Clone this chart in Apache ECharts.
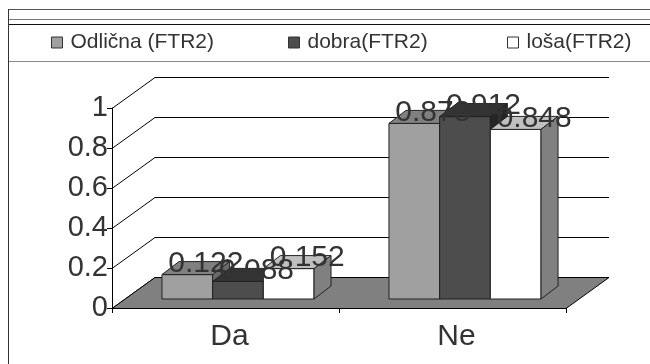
<!DOCTYPE html>
<html>
<head>
<meta charset="utf-8">
<script src="https://cdn.jsdelivr.net/npm/echarts@6/dist/echarts.min.js"></script>
<style>
html, body { margin: 0; padding: 0; background: #fff; }
#chart { width: 650px; height: 364px; }
</style>
</head>
<body>
<div id="chart"></div>
<script>
// Data
const categories = ['Da', 'Ne'];
const seriesNames = ['Odlična (FTR2)', 'dobra(FTR2)', 'loša(FTR2)'];
const odlicna = [0.122, 0.878];
const dobra = [0.088, 0.912];
const losa = [0.152, 0.848];
const yTicks = [0, 0.2, 0.4, 0.6, 0.8, 1];

const FONT = '"Liberation Sans", Arial, sans-serif';

// Oblique "3D" geometry: depth of floor / side wall, bar plane offset, bar depth
const WALL_DX = 43, WALL_DY = 31;
const BAR_OFF_X = 12.5, BAR_OFF_Y = 9;
const BAR_DX = 17, BAR_DY = 13;
const GROUP_FRAC = 0.67;
const EDGE = '#222';

const faces = [
  { front: '#a0a0a0', top: '#808080', side: '#6a6a6a' },
  { front: '#4d4d4d', top: '#333333', side: '#262626' },
  { front: '#ffffff', top: '#c0c0c0', side: '#808080' }
];

const px = v => Math.round(v) + 0.5;

// Side-wall diagonals and back-wall gridlines, one per y tick
function renderWall(params, api) {
  const cs = params.coordSys;
  const y = px(api.coord([0, api.value(1)])[1]);
  const x0 = cs.x;
  const x1 = cs.x + cs.width;
  return {
    type: 'polyline',
    shape: { points: [[x0, y], [x0 + WALL_DX, y - WALL_DY], [x1 + WALL_DX, y - WALL_DY]] },
    style: { stroke: '#000', lineWidth: 1, fill: null },
    silent: true
  };
}

// Gray floor under the bars
function renderFloor(params, api) {
  const cs = params.coordSys;
  const y = px(api.coord([0, 0])[1]);
  const x0 = cs.x, x1 = cs.x + cs.width;
  return {
    type: 'polygon',
    shape: { points: [[x0, y], [x1, y], [x1 + WALL_DX, y - WALL_DY], [x0 + WALL_DX, y - WALL_DY]] },
    style: { fill: '#808080', stroke: '#000', lineWidth: 1 },
    silent: true
  };
}

// Box-shaped bar: front, top and right faces plus its value label
function barRenderer(k) {
  return function (params, api) {
    const cat = api.value(0);
    const val = api.value(1);
    const base = api.coord([cat, 0]);
    const topPt = api.coord([cat, val]);
    const band = api.size([1, 0])[0];
    const gw = band * GROUP_FRAC;
    const bw = gw / 3;
    const x0 = base[0] - gw / 2 + k * bw + BAR_OFF_X;
    const x1 = x0 + bw;
    const yb = base[1] - BAR_OFF_Y;
    const yt = topPt[1] - BAR_OFF_Y;
    const f = faces[k];
    return {
      type: 'group',
      children: [
        {
          type: 'rect',
          shape: { x: x0, y: yt, width: bw, height: yb - yt },
          style: { fill: f.front, stroke: EDGE, lineWidth: 1 }
        },
        {
          type: 'polygon',
          shape: { points: [[x0, yt], [x1, yt], [x1 + BAR_DX, yt - BAR_DY], [x0 + BAR_DX, yt - BAR_DY]] },
          style: { fill: f.top, stroke: EDGE, lineWidth: 1 }
        },
        {
          type: 'polygon',
          shape: { points: [[x1, yt], [x1 + BAR_DX, yt - BAR_DY], [x1 + BAR_DX, yb - BAR_DY], [x1, yb]] },
          style: { fill: f.side, stroke: EDGE, lineWidth: 1 }
        },
        {
          type: 'text',
          z2: 100,
          style: {
            text: String(val),
            x: x0 + bw / 2 + 18.5,
            y: yt - 11,
            align: 'center',
            verticalAlign: 'middle',
            fontSize: 30,
            fontFamily: FONT,
            fill: '#333'
          }
        }
      ]
    };
  };
}

const valuesBySeries = [odlicna, dobra, losa];
const legendLeft = [51, 288, 507];

const chart = echarts.init(document.getElementById('chart'), null, { renderer: 'canvas' });
chart.setOption({
  backgroundColor: '#fff',
  animation: false,
  grid: { left: 112, right: 84, top: 108, bottom: 56 },
  legend: seriesNames.map((n, i) => ({
    data: [{ name: n, itemStyle: { color: faces[i].front, borderColor: '#333', borderWidth: 1 } }],
    left: legendLeft[i],
    top: 32,
    padding: 0,
    icon: 'rect',
    itemWidth: 11,
    itemHeight: 11,
    selectedMode: false,
    textStyle: { fontSize: 21, color: '#333', fontFamily: FONT, padding: [0, 0, 0, 3] }
  })),
  xAxis: {
    type: 'category',
    data: categories,
    axisLine: { show: true, lineStyle: { color: '#000', width: 1 } },
    axisTick: { show: true, length: 5, lineStyle: { color: '#000' } },
    axisLabel: { fontSize: 30, color: '#333', fontFamily: FONT, margin: 14, padding: [0, 0, 0, 8] },
    splitLine: { show: false }
  },
  yAxis: {
    type: 'value',
    min: 0,
    max: 1,
    interval: 0.2,
    axisLine: { show: true, lineStyle: { color: '#000', width: 1 } },
    axisTick: { show: true, length: 5, lineStyle: { color: '#000' } },
    axisLabel: { fontSize: 29, color: '#333', fontFamily: FONT, margin: 4 },
    splitLine: { show: false }
  },
  graphic: [
    { type: 'line', shape: { x1: 8, y1: 9.5, x2: 650, y2: 9.5 }, style: { stroke: '#555', lineWidth: 1 } },
    { type: 'line', shape: { x1: 8, y1: 19.5, x2: 650, y2: 19.5 }, style: { stroke: '#777', lineWidth: 1 } },
    { type: 'line', shape: { x1: 8, y1: 24.5, x2: 650, y2: 24.5 }, style: { stroke: '#111', lineWidth: 1 } },
    { type: 'line', shape: { x1: 8, y1: 61.5, x2: 650, y2: 61.5 }, style: { stroke: '#888', lineWidth: 1 } },
    { type: 'line', shape: { x1: 8.5, y1: 9, x2: 8.5, y2: 364 }, style: { stroke: '#333', lineWidth: 1 } }
  ],
  series: [
    {
      type: 'custom',
      name: 'wall',
      renderItem: renderWall,
      data: yTicks.map(v => [0, v]),
      silent: true,
      z: 1
    },
    {
      type: 'custom',
      name: 'floor',
      renderItem: renderFloor,
      data: [[0, 0]],
      silent: true,
      z: 1
    }
  ].concat(seriesNames.map((n, k) => ({
    type: 'custom',
    name: n,
    renderItem: barRenderer(k),
    itemStyle: { color: faces[k].front },
    data: valuesBySeries[k].map((v, i) => [i, v]),
    z: 2
  })))
});
</script>
</body>
</html>
